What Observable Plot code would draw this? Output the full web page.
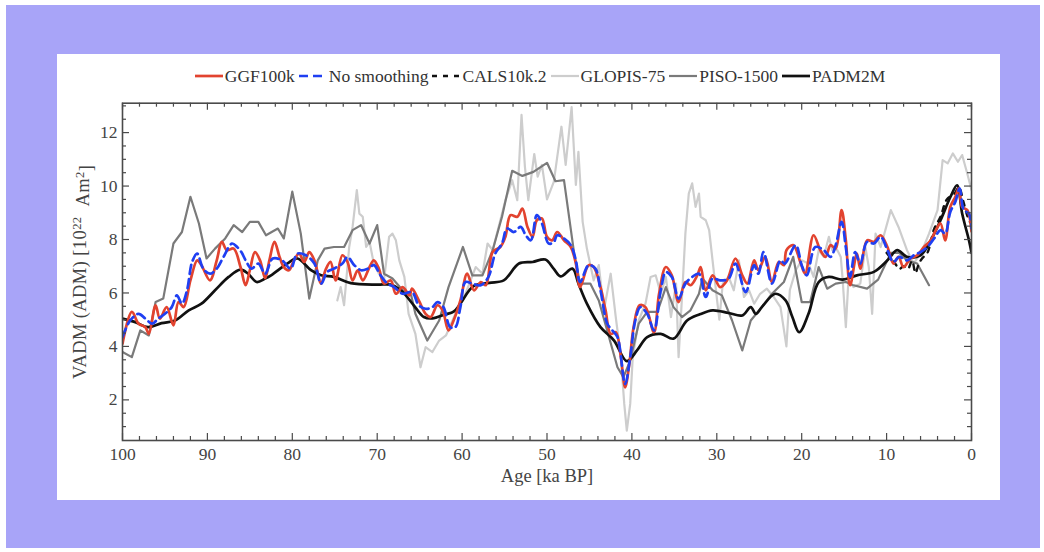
<!DOCTYPE html>
<html>
<head>
<meta charset="utf-8">
<script src="https://cdn.jsdelivr.net/npm/d3@7"></script>
<script src="https://cdn.jsdelivr.net/npm/@observablehq/plot@0.6"></script>
<style>
  html, body { margin: 0; padding: 0; background: #fff; }
  body { width: 1044px; height: 552px; position: relative; overflow: hidden; font-family: "Liberation Serif", serif; }
  #bg { position: absolute; left: 6px; top: 5px; width: 1034px; height: 543px; background: #a8a4f8; }
  #panel { position: absolute; left: 57px; top: 54px; width: 943px; height: 446px; background: #fff; }
  #legend { box-sizing: border-box; height: 40px; padding: 4px 29px 0 52px; display: flex; align-items: center; justify-content: center; font-size: 17.5px; color: #333; white-space: nowrap; }
  #legend .item { display: flex; align-items: center; margin: 0 2px; }
  #legend svg { margin-right: 2px; }
  #chart svg { display: block; }
</style>
</head>
<body>
<div id="bg"></div>
<div id="panel">
  <div id="legend"></div>
  <div id="chart"></div>
</div>
<script>
// Virtual axial dipole moment records, [age (ka BP), VADM (10^22 Am^2)]
const GGF100k = [
  [100,4.1],[98.9,5.29],[98.1,4.85],[97.3,4.72],[96.9,4.47],[96.1,5.54],[95.6,5.04],[94.8,5.47],[94.0,4.79],[93.4,5.66],
  [92.8,5.47],[92.0,6.47],[91.2,7.22],[90.7,7.04],[89.7,6.47],[88.9,7.22],[88.3,7.91],[87.7,7.6],[86.9,7.66],[86.1,6.97],
  [85.5,6.29],[85.0,6.85],[84.4,7.53],[83.8,7.22],[83.2,6.55],[82.7,7.22],[82.1,7.91],[81.5,7.35],[81.0,6.97],[80.4,6.85],
  [79.8,7.22],[79.2,7.47],[78.6,7.16],[78.0,7.53],[77.4,7.22],[76.6,6.35],[76.1,6.85],[75.5,7.16],[74.9,6.47],[74.1,7.41],
  [73.5,7.16],[72.9,6.47],[72.3,6.85],[71.7,6.47],[70.9,6.97],[70.4,7.22],[69.8,6.91],[69.2,6.35],[68.4,6.47],[67.8,5.97],
  [67.0,6.22],[66.2,5.91],[65.9,6.16],[65.1,5.72],[64.3,5.22],[63.7,5.1],[62.9,5.54],[62.3,5.35],[61.6,4.6],[61.0,4.97],
  [60.2,5.72],[59.4,6.72],[58.6,6.1],[57.8,6.41],[57.2,6.29],[56.4,7.53],[55.5,7.72],[54.9,8.1],[54.3,8.91],[53.5,8.85],
  [52.9,9.16],[52.3,8.47],[51.7,8.1],[51.2,8.72],[50.6,8.79],[50.0,8.1],[49.4,7.97],[48.8,8.28],[48.0,7.97],[47.2,7.72],
  [46.6,7.1],[46.1,6.22],[45.1,7.04],[44.5,6.97],[43.7,6.22],[43.1,5.35],[42.5,4.47],[41.9,4.53],[41.3,3.6],[40.8,2.47],
  [40.3,3.35],[39.8,4.72],[39.1,5.54],[38.4,5.47],[37.4,4.53],[36.8,5.97],[36.0,6.97],[35.3,6.66],[34.5,5.66],[33.7,6.41],
  [33.1,6.29],[32.3,6.66],[31.9,6.97],[31.3,6.1],[30.5,6.66],[29.6,6.22],[28.8,6.47],[27.8,7.29],[27.0,6.66],[26.4,6.35],
  [25.6,7.22],[25.1,6.85],[24.3,7.35],[23.5,6.41],[22.7,7.16],[22.1,7.04],[21.8,7.6],[21.0,7.79],[20.1,7.1],[19.6,6.72],
  [18.6,8.16],[17.8,7.6],[17.2,7.35],[16.6,7.79],[16.0,7.66],[15.3,9.1],[14.8,7.97],[14.3,6.29],[13.5,7.47],[13.1,6.91],
  [12.3,7.97],[11.5,7.91],[10.7,8.16],[9.9,7.72],[9.2,7.1],[8.6,7.35],[8.0,6.97],[7.2,7.29],[6.4,7.41],[5.6,7.72],
  [4.8,7.97],[4.2,8.35],[3.65,8.6],[3.1,7.97],[2.5,9.22],[1.9,9.6],[1.5,9.91],[1.1,9.22],[0.5,9.1],[0,8.3]
];

const noSmoothing = [
  [100,4.35],[99.1,4.97],[98.1,5.22],[97.3,5.04],[96.5,4.85],[95.8,5.04],[95.0,5.22],[94.2,5.47],[93.6,5.91],[93.0,5.6],
  [92.4,6.1],[91.8,7.16],[91.2,7.47],[90.5,6.91],[89.7,6.72],[88.9,6.91],[88.1,7.35],[87.1,7.85],[86.5,7.72],[86.0,7.53],
  [85.4,7.16],[84.8,6.91],[84.0,7.1],[83.2,6.72],[82.3,7.29],[81.2,7.22],[80.2,6.91],[79.4,7.47],[78.4,7.41],[77.4,7.1],
  [76.6,6.35],[75.9,6.78],[75.1,6.91],[74.1,7.1],[73.5,7.35],[72.7,7.04],[71.9,6.85],[71.1,6.91],[70.4,7.04],[69.6,6.66],
  [68.8,6.35],[68.0,6.22],[67.0,5.97],[65.9,6.03],[65.1,5.54],[64.3,5.41],[63.5,5.47],[62.9,5.66],[62.2,5.47],[61.4,4.72],
  [60.8,4.72],[60.2,5.47],[59.6,6.41],[58.8,6.35],[57.8,6.29],[56.9,6.6],[56.1,7.47],[55.3,7.85],[54.7,8.41],[53.9,8.28],
  [53.1,8.47],[52.5,8.16],[51.9,7.97],[51.2,8.91],[50.6,8.6],[49.8,7.85],[49.2,7.9],[48.8,8.16],[48.0,8.04],[47.2,7.79],
  [46.6,7.22],[46.1,6.41],[45.1,7.04],[44.3,6.91],[43.7,6.1],[42.9,4.85],[42.3,4.6],[41.7,4.35],[40.8,2.6],[40.2,3.6],
  [39.6,4.97],[39.0,5.47],[38.2,5.22],[37.4,4.6],[36.6,6.1],[36.0,6.78],[35.3,6.6],[34.5,5.79],[33.7,6.35],[32.9,6.6],
  [32.1,6.72],[31.3,5.85],[30.5,6.54],[29.6,6.47],[28.6,6.54],[27.8,7.1],[26.6,6.03],[25.6,7.04],[25.1,6.72],[24.5,7.53],
  [23.5,6.35],[22.5,7.22],[22.0,7.1],[20.7,7.79],[20.0,7.04],[19.4,6.66],[18.4,7.72],[17.4,7.6],[16.6,7.35],[16.0,7.79],
  [15.3,8.66],[14.8,7.7],[14.3,6.6],[13.7,7.53],[13.1,7.1],[12.3,7.91],[11.5,7.85],[10.7,8.1],[9.9,7.6],[9.2,7.16],
  [8.5,7.35],[7.6,7.22],[6.8,7.41],[6.0,7.53],[5.2,7.72],[4.4,8.04],[3.65,8.35],[3.1,8.22],[2.5,9.03],[1.9,9.41],
  [1.4,9.91],[0.9,9.1],[0.3,8.97],[0,8.41]
];

const CALS10k2 = [
  [10,7.5],[9.5,7.3],[9,7.1],[8.5,6.9],[8,7.0],[7.5,6.9],[7,7.2],[6.6,6.75],[6.2,7.1],[5.8,7.3],
  [5.2,7.5],[4.8,7.9],[4.4,8.4],[3.65,8.85],[2.9,9.5],[2.0,9.72],[1.5,9.95],[0.9,9.35],[0.3,8.72],[0,8.6]
];

const GLOPIS75 = [
  [74.7,5.72],[74.3,6.22],[73.9,5.54],[73.3,7.72],[72.9,8.47],[72.4,9.85],[72.1,8.97],[71.7,8.85],[71.3,7.72],[70.9,7.91],
  [70.4,7.1],[69.8,6.72],[69.2,6.47],[68.6,8.1],[68.2,8.22],[67.8,7.97],[67.4,7.22],[66.8,6.6],[66.3,5.22],[65.5,4.47],
  [64.9,3.22],[64.3,3.97],[63.5,3.79],[62.7,4.22],[61.9,4.41],[60.8,5.22],[59.6,5.97],[58.4,6.97],[57.6,6.72],[57.0,7.85],
  [56.4,7.6],[55.7,8.47],[54.9,9.47],[54.1,10.22],[53.5,9.47],[53.0,12.66],[52.6,10.72],[52.2,9.47],[51.5,11.2],[51.1,10.35],
  [50.6,10.79],[50.0,9.5],[49.2,10.16],[48.3,12.22],[47.8,10.79],[47.1,12.95],[46.6,10.04],[46.3,11.28],[45.8,8.66],[45.3,7.66],
  [44.5,6.47],[43.9,7.04],[43.3,5.35],[42.5,6.72],[41.9,5.1],[41.3,3.6],[40.9,1.85],[40.6,0.85],[40.2,1.85],[39.9,3.6],
  [39.2,4.97],[38.4,5.6],[37.8,6.6],[37.2,6.66],[36.6,5.97],[36.0,6.6],[35.4,5.1],[34.8,6.35],[34.5,3.6],[34.1,5.85],
  [33.7,8.22],[33.3,9.72],[32.9,10.1],[32.5,9.22],[32.1,9.72],[31.9,8.85],[31.3,8.72],[30.9,8.35],[30.5,7.22],[30.1,6.1],
  [29.7,5.0],[29.3,6.35],[28.6,6.6],[28.0,6.1],[27.4,7.22],[26.8,5.85],[26.2,6.1],[25.6,5.6],[24.9,5.97],[24.1,6.16],
  [23.3,5.85],[22.5,5.47],[21.8,4.0],[21.4,6.1],[20.7,6.85],[20.0,7.22],[19.2,7.1],[18.6,6.6],[18.0,7.6],[17.4,7.35],
  [16.8,8.1],[16.4,7.6],[15.8,7.6],[15.4,7.35],[15.2,6.6],[14.8,4.72],[14.5,6.47],[13.9,6.22],[13.1,6.35],[12.5,7.72],
  [12.1,6.97],[11.7,5.22],[11.3,8.22],[10.7,7.72],[9.5,9.1],[8.6,8.47],[7.6,7.6],[6.8,7.1],[5.8,7.6],[5.0,8.22],
  [4.0,9.1],[3.4,10.97],[2.8,10.85],[2.2,11.22],[1.6,10.91],[1.1,11.16],[0.5,10.47],[0,9.85]
];

const PISO1500 = [
  [100,3.79],[98.9,3.6],[97.9,4.6],[96.9,4.41],[96.1,5.66],[95.2,5.79],[94.0,7.85],[93.0,8.28],[92.0,9.6],[91.0,8.6],
  [90.1,7.29],[89.1,7.66],[87.9,8.04],[86.9,8.54],[85.9,8.28],[85.0,8.66],[84.0,8.66],[83.1,8.16],[81.7,8.41],[81.0,8.04],
  [80.0,9.79],[79.0,8.22],[78.0,5.79],[77.0,7.22],[76.2,7.66],[75.1,7.72],[73.9,7.72],[72.9,8.35],[71.9,8.54],[70.9,7.85],
  [70.0,8.54],[69.2,6.72],[68.2,6.54],[67.0,6.1],[66.0,5.91],[65.5,5.22],[64.1,4.22],[62.7,4.97],[61.6,6.22],[59.9,7.72],
  [58.8,6.66],[57.6,6.66],[56.4,7.6],[55.3,8.85],[54.1,10.57],[52.9,10.38],[51.6,10.53],[50.0,10.87],[49.0,10.18],[48.0,10.22],
  [47.4,8.85],[46.8,7.47],[46.1,6.35],[44.9,6.35],[43.9,5.72],[42.7,4.35],[41.7,3.22],[41.0,2.85],[40.2,3.47],[39.2,4.85],
  [38.2,5.29],[37.0,5.29],[36.0,6.22],[35.1,5.47],[34.1,5.1],[33.1,5.35],[32.1,5.97],[31.7,6.54],[30.5,6.1],[29.4,5.91],
  [28.2,4.97],[27.0,3.85],[26.0,4.97],[24.7,5.47],[23.5,5.97],[22.1,6.41],[21.0,7.35],[20.0,5.66],[19.0,5.66],[18.0,6.97],
  [17.0,6.16],[16.0,6.35],[14.8,6.41],[14.0,6.3],[12.3,6.16],[11.0,6.5],[9.5,7.5],[8.5,7.5],[7.6,7.22],[6.4,7.1],[5.0,6.29]
];

const PADM2M = [
  [100,5.04],[98.5,4.91],[97,4.72],[95.4,4.87],[93.8,4.97],[92.2,5.35],[90.7,5.6],[89.1,6.1],[87.5,6.6],[86.1,6.87],
  [85.2,6.72],[84.2,6.41],[83.2,6.54],[82.5,6.66],[80.6,7.1],[79.4,7.29],[77.8,6.85],[76.6,6.66],[75.1,6.6],[73.1,6.37],
  [70,6.31],[68.4,6.31],[67.2,6.1],[65.6,5.5],[64.5,5.1],[63.5,5.05],[62,5.2],[61,5.3],[60.2,5.6],[58.7,6.25],
  [56.8,6.38],[55.1,6.47],[53.3,7.1],[51.7,7.16],[50.2,7.25],[49.2,6.9],[48.4,6.62],[47.0,6.91],[46.3,6.35],[45.3,5.6],
  [43.7,4.72],[42.1,4.22],[40.6,3.45],[39.4,3.85],[38.2,4.35],[36.6,4.47],[35.1,4.29],[33.5,4.97],[32.0,5.2],[30.5,5.35],
  [28.6,5.25],[27.0,5.16],[26.0,5.47],[25.4,5.22],[24.7,5.47],[23.1,5.97],[21.9,5.72],[21.1,5.1],[20.3,4.53],[19.2,5.22],
  [18.0,6.41],[16.8,6.6],[15.2,6.5],[13.5,6.66],[11.5,6.79],[9.9,7.22],[8.75,7.6],[7.6,7.35],[6,7.41],[4.8,7.97],
  [3.65,8.72],[2.47,9.6],[1.7,10.03],[1.1,8.97],[0.3,7.97],[0,7.5]
];

// Legend entries: name, colour, width, dash pattern
const seriesNames  = ["GGF100k", "No smoothing", "CALS10k.2", "GLOPIS-75", "PISO-1500", "PADM2M"];
const seriesColors = ["#e2432f", "#1f3ff2", "#111111", "#cdcdcd", "#7a7a7a", "#111111"];
const seriesWidths = [2.7, 2.7, 2.4, 2.2, 2.2, 2.7];
const seriesDashes = [null, "9,5", "5,6", null, null, null];

// Axis ticks
const xMajor = d3.range(0, 101, 10);
const xMinor = d3.range(0, 101, 2).filter(d => d % 10 !== 0);
const yMajor = d3.range(2, 13, 2);
const yMinor = d3.range(1, 13.01, 0.5).filter(d => d % 2 !== 0);

// Legend
const legend = d3.select("#legend");
seriesNames.forEach((name, i) => {
  const item = legend.append("div").attr("class", "item");
  const sw = item.append("svg").attr("width", 28).attr("height", 12);
  sw.append("line")
    .attr("x1", 0).attr("x2", 28).attr("y1", 6).attr("y2", 6)
    .attr("stroke", seriesColors[i])
    .attr("stroke-width", seriesWidths[i])
    .attr("stroke-dasharray", seriesDashes[i]);
  item.append("span").text(name);
});

const W = 943, H = 406;
const mL = 65, mR = 29, mT = 8.7, mB = 60;
const innerW = W - mL - mR, innerH = H - mT - mB;
const axisColor = "#4a4a4a";

const lineOf = (data, i, curve) => Plot.line(data, {
  x: d => d[0], y: d => d[1],
  stroke: seriesColors[i], strokeWidth: seriesWidths[i],
  strokeDasharray: seriesDashes[i] ?? undefined,
  curve, clip: true
});

const chart = Plot.plot({
  width: W, height: H,
  marginLeft: mL, marginRight: mR, marginTop: mT, marginBottom: mB,
  x: {domain: [100, 0]},
  y: {domain: [0.48, 13.1]},
  style: {fontFamily: "'Liberation Serif', serif", fontSize: "17px", background: "transparent", overflow: "visible"},
  marks: [
    lineOf(GLOPIS75, 3, "linear"),
    lineOf(PISO1500, 4, "linear"),
    lineOf(PADM2M, 5, "catmull-rom"),
    lineOf(CALS10k2, 2, "catmull-rom"),
    lineOf(GGF100k, 0, "catmull-rom"),
    lineOf(noSmoothing, 1, "catmull-rom"),
    // inward ticks on all four sides
    Plot.tickX(xMajor, {x: d => d, insetTop: innerH - 7, stroke: axisColor, strokeWidth: 1.2}),
    Plot.tickX(xMinor, {x: d => d, insetTop: innerH - 4, stroke: axisColor, strokeWidth: 1.2}),
    Plot.tickX(xMajor, {x: d => d, insetBottom: innerH - 7, stroke: axisColor, strokeWidth: 1.2}),
    Plot.tickX(xMinor, {x: d => d, insetBottom: innerH - 4, stroke: axisColor, strokeWidth: 1.2}),
    Plot.tickY(yMajor, {y: d => d, insetRight: innerW - 7, stroke: axisColor, strokeWidth: 1.2}),
    Plot.tickY(yMinor, {y: d => d, insetRight: innerW - 4, stroke: axisColor, strokeWidth: 1.2}),
    Plot.tickY(yMajor, {y: d => d, insetLeft: innerW - 7, stroke: axisColor, strokeWidth: 1.2}),
    Plot.tickY(yMinor, {y: d => d, insetLeft: innerW - 4, stroke: axisColor, strokeWidth: 1.2}),
    Plot.axisX(xMajor, {anchor: "bottom", tickSize: 0, tickPadding: 7, label: null, fill: "#444", fontSize: 17.5}),
    Plot.axisY(yMajor, {anchor: "left", tickSize: 0, tickPadding: 5, label: null, fill: "#444", fontSize: 17.5}),
    Plot.text(["Age [ka BP]"], {text: d => d, frameAnchor: "bottom", dy: 41, fill: "#444", fontSize: 18.5}),
    Plot.text(["VADM (ADM) [10²² Am²]"], {text: d => d, frameAnchor: "left", textAnchor: "middle", dx: -42, rotate: -90, fill: "#444", fontSize: 18.5}),
    Plot.frame({stroke: axisColor, strokeWidth: 1.6})
  ]
});

// Typeset the unit with raised exponents
d3.select(chart).selectAll("text")
  .filter(function() { return this.textContent === "VADM (ADM) [10²² Am²]"; })
  .each(function() {
    const t = d3.select(this);
    t.text(null).attr("letter-spacing", "0.4px").attr("xml:space", "preserve").style("white-space", "pre");
    t.append("tspan").text("VADM (ADM) [10");
    t.append("tspan").attr("dy", "-0.45em").attr("font-size", "12.5").text("22");
    t.append("tspan").attr("dy", "0.45em").text("\u00A0\u00A0Am");
    t.append("tspan").attr("dy", "-0.45em").attr("font-size", "12.5").text("2");
    t.append("tspan").attr("dy", "0.45em").text("]");
  });

document.getElementById("chart").appendChild(chart);
</script>
</body>
</html>
